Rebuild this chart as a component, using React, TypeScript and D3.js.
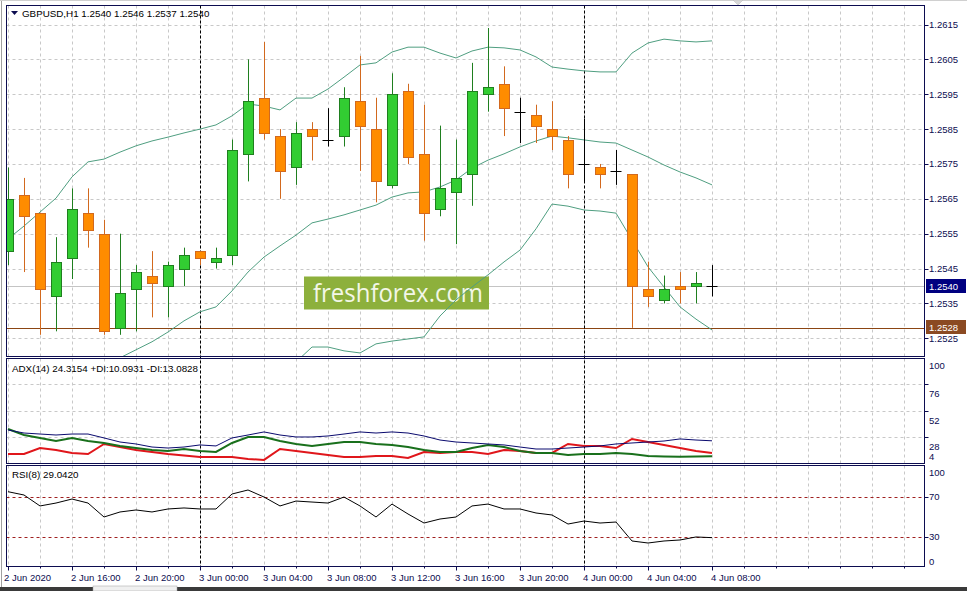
import React from 'react';
import * as d3 from 'd3';

const W = 967;
const H = 591;

// ---------- data ----------
const timeLabels = ['2 Jun 2020', '2 Jun 16:00', '2 Jun 20:00', '3 Jun 00:00', '3 Jun 04:00', '3 Jun 08:00', '3 Jun 12:00', '3 Jun 16:00', '3 Jun 20:00', '4 Jun 00:00', '4 Jun 04:00', '4 Jun 08:00'];
const labelBars = [0, 4, 8, 12, 16, 20, 24, 28, 32, 36, 40, 44];
const daySeparatorBars = [12, 36];

const priceTicks = [1.2525, 1.2535, 1.2545, 1.2555, 1.2565, 1.2575, 1.2585, 1.2595, 1.2605, 1.2615];
const adxTicks = [100, 76, 52, 28, 4];
const rsiTicks = [100, 70, 30, 0];
const rsiLevels = [70, 30];

const open = [1.2550, 1.2566, 1.2561, 1.2537, 1.2548, 1.2561, 1.2555, 1.2528, 1.2539, 1.2543, 1.2540, 1.2545, 1.2550, 1.2547, 1.2549, 1.2578, 1.2594, 1.2583, 1.2574, 1.2585, 1.2582, 1.2583, 1.2593, 1.2585, 1.2569, 1.2596, 1.2578, 1.2562, 1.2567, 1.2572, 1.2595, 1.2598, 1.2590, 1.2589, 1.2585, 1.2582, 1.2575, 1.2574, 1.2573, 1.2572, 1.2539, 1.2536, 1.2540, 1.2540, 1.2540];
const high = [1.2574, 1.2571, 1.2561, 1.2554, 1.2568, 1.2568, 1.2559, 1.2555, 1.2546, 1.2550, 1.2547, 1.2551, 1.2550, 1.2551, 1.2582, 1.2605, 1.2610, 1.2585, 1.2587, 1.2587, 1.2591, 1.2597, 1.2606, 1.2594, 1.2601, 1.2598, 1.2592, 1.2586, 1.2582, 1.2604, 1.2614, 1.2603, 1.2594, 1.2592, 1.2593, 1.2583, 1.2588, 1.2575, 1.2579, 1.2572, 1.2547, 1.2543, 1.2544, 1.2544, 1.2546];
const low = [1.2546, 1.2544, 1.2526, 1.2527, 1.2542, 1.2551, 1.2526, 1.2526, 1.2527, 1.2531, 1.2531, 1.2540, 1.2546, 1.2545, 1.2546, 1.2570, 1.2582, 1.2565, 1.2569, 1.2576, 1.2580, 1.2580, 1.2573, 1.2564, 1.2568, 1.2575, 1.2553, 1.2560, 1.2552, 1.2563, 1.2590, 1.2583, 1.2581, 1.2581, 1.2579, 1.2568, 1.2570, 1.2568, 1.2569, 1.2528, 1.2534, 1.2535, 1.2535, 1.2535, 1.2537];
const close = [1.2565, 1.2560, 1.2539, 1.2547, 1.2562, 1.2556, 1.2527, 1.2538, 1.2544, 1.2541, 1.2546, 1.2549, 1.2548, 1.2548, 1.2579, 1.2593, 1.2584, 1.2573, 1.2584, 1.2583, 1.2582, 1.2594, 1.2586, 1.2570, 1.2595, 1.2577, 1.2561, 1.2568, 1.2571, 1.2596, 1.2597, 1.2591, 1.2590, 1.2586, 1.2583, 1.2572, 1.2575, 1.2572, 1.2573, 1.2540, 1.2537, 1.2539, 1.2539, 1.2541, 1.2540];

const bbUpper = [1.25535, 1.25572, 1.25612, 1.25652, 1.25713, 1.25756, 1.25764, 1.25784, 1.25802, 1.25816, 1.25827, 1.25839, 1.25850, 1.25862, 1.25888, 1.25922, 1.25916, 1.25905, 1.25939, 1.25939, 1.25965, 1.25999, 1.26034, 1.26040, 1.26071, 1.26085, 1.26085, 1.26068, 1.26054, 1.26074, 1.26085, 1.26083, 1.26077, 1.26057, 1.26028, 1.26022, 1.26017, 1.26014, 1.26014, 1.26068, 1.26097, 1.26108, 1.26103, 1.26100, 1.26103];
const bbMiddle = [null, null, null, null, null, null, 1.25168, 1.25194, 1.25217, 1.25240, 1.25268, 1.25300, 1.25326, 1.25340, 1.25386, 1.25440, 1.25483, 1.25515, 1.25546, 1.25581, 1.25592, 1.25604, 1.25618, 1.25632, 1.25655, 1.25667, 1.25670, 1.25684, 1.25704, 1.25738, 1.25761, 1.25779, 1.25799, 1.25816, 1.25830, 1.25825, 1.25819, 1.25813, 1.25810, 1.25790, 1.25770, 1.25747, 1.25727, 1.25710, 1.25690];
const bbLower = [null, null, null, null, null, null, null, null, null, null, null, null, null, null, null, null, null, null, 1.25182, 1.25225, 1.25225, 1.25214, 1.25208, 1.25234, 1.25242, 1.25248, 1.25254, 1.25314, 1.25360, 1.25397, 1.25432, 1.25469, 1.25503, 1.25564, 1.25635, 1.25629, 1.25618, 1.25615, 1.25609, 1.25532, 1.25455, 1.25397, 1.25340, 1.25305, 1.25274];

const adxMain = [34.2, 31.4, 30.5, 29.6, 30.5, 30.5, 26.9, 23.2, 21.4, 18.6, 17.7, 18.6, 20.5, 19.6, 26.9, 29.6, 32.4, 29.6, 27.8, 27.8, 28.7, 30.5, 32.4, 31.4, 32.4, 31.4, 28.7, 25.0, 23.2, 22.3, 21.4, 20.5, 18.6, 16.8, 16.8, 17.7, 18.6, 19.6, 21.4, 22.3, 23.2, 24.1, 26.0, 25.0, 24.3];
const plusDI = [35.1, 29.6, 26.9, 24.1, 26.9, 24.1, 22.3, 19.6, 17.7, 15.9, 15.0, 16.8, 15.0, 14.1, 22.3, 27.8, 27.8, 24.1, 21.4, 19.6, 21.4, 23.2, 23.2, 21.4, 20.5, 18.6, 15.9, 14.1, 14.1, 17.7, 20.5, 18.6, 15.0, 13.2, 13.2, 11.3, 12.2, 12.2, 13.2, 12.2, 10.4, 10.0, 9.8, 9.9, 10.1];
const minusDI = [12.2, 12.2, 17.7, 15.9, 13.2, 12.2, 21.4, 18.6, 15.9, 14.1, 12.2, 10.9, 9.5, 9.5, 9.5, 7.7, 6.8, 16.8, 15.0, 13.2, 11.3, 9.5, 9.5, 10.4, 10.4, 8.6, 14.1, 13.2, 14.1, 14.1, 12.2, 15.9, 15.0, 13.2, 13.2, 21.4, 19.6, 19.6, 17.7, 26.0, 23.2, 20.5, 17.7, 15.0, 13.1];
const rsi = [74.8, 71.5, 60.6, 63.5, 67.5, 63.5, 49.6, 54.6, 56.6, 54.6, 57.6, 58.6, 57.6, 57.6, 72.5, 76.5, 69.5, 60.6, 65.5, 64.5, 63.5, 69.5, 60.6, 49.6, 62.5, 52.6, 43.6, 47.6, 49.6, 60.6, 62.5, 57.6, 57.6, 53.6, 51.6, 42.6, 45.6, 43.6, 44.6, 25.7, 23.7, 25.7, 26.7, 29.7, 29.04];

const headerText = 'GBPUSD,H1  1.2540 1.2546 1.2537 1.2540';
const adxText = 'ADX(14) 24.3154 +DI:10.0931 -DI:13.0828';
const rsiText = 'RSI(8) 29.0420';
const bidPrice = 1.2540;
const linePrice = 1.2528;
const watermark = 'freshforex.com';

// ---------- layout ----------
const L = 6.5, R = 924.5;
const mainTop = 5.5, mainBot = 356.5;
const adxTop = 358.5, adxBot = 463.5;
const rsiTop = 465.5, rsiBot = 566.5;
const FONT = '"Liberation Sans", Arial, sans-serif';
const FRAME = '#0c0c50';
const GRID = '#c8c8c8';

export default function App() {
  const n = open.length;
  const x = d3.scaleLinear().domain([0, 44]).range([8, 712]);
  const y = d3.scaleLinear().domain([1.2525, 1.2615]).range([338.3, 24.5]);
  const yAdx = d3.scaleLinear().domain([4, 100]).range([463, 358]);
  const yRsi = d3.scaleLinear().domain([0, 100]).range([566.8, 466.4]);

  const gridBars = d3.range(0, 57, 2);
  const idx = d3.range(n);

  const bandLine = (arr: (number | null)[]) =>
    d3.line<number>()
      .defined((i) => arr[i] != null)
      .x((i) => x(i))
      .y((i) => y(arr[i] as number))(idx) || '';
  const indLine = (arr: number[], sc: d3.ScaleLinear<number, number>) =>
    d3.line<number>().x((i) => x(i)).y((i) => sc(arr[i]))(idx) || '';

  const bullFill = '#32CD32', bullStroke = '#1f7f1f';
  const bearFill = '#FF8C00', bearStroke = '#D2691E';
  const bodyW = 9;

  return (
    <div style={{ position: 'absolute', left: 0, top: 0 }}>
      <svg width={W} height={H} style={{ display: 'block', background: '#fff' }} fontFamily={FONT}>
        <defs>
          <clipPath id="clipMain"><rect x={L} y={mainTop} width={R - L} height={mainBot - mainTop} /></clipPath>
          <clipPath id="clipAdx"><rect x={L} y={adxTop} width={R - L} height={adxBot - adxTop} /></clipPath>
          <clipPath id="clipRsi"><rect x={L} y={rsiTop} width={R - L} height={rsiBot - rsiTop} /></clipPath>
        </defs>

        {/* window edges */}
        <line x1={1.5} x2={1.5} y1={0} y2={H} stroke="#a0a0a0" />
        <line x1={0} x2={W} y1={0.5} y2={0.5} stroke="#d0d0d0" />
        <path d="M733,0 L743,0 L738,5 Z" fill="#d8d8d8" stroke="#b8b8b8" strokeWidth={0.5} />

        {/* grids */}
        <g stroke={GRID} strokeDasharray="3,3" strokeWidth={1}>
          {gridBars.map((b) => (
            <g key={'vg' + b}>
              <line x1={Math.round(x(b)) + 0.5} x2={Math.round(x(b)) + 0.5} y1={mainTop} y2={mainBot} />
              <line x1={Math.round(x(b)) + 0.5} x2={Math.round(x(b)) + 0.5} y1={adxTop} y2={adxBot} />
              <line x1={Math.round(x(b)) + 0.5} x2={Math.round(x(b)) + 0.5} y1={rsiTop} y2={rsiBot} />
            </g>
          ))}
          {priceTicks.map((p) => (
            <line key={'hg' + p} x1={L} x2={R} y1={Math.round(y(p)) + 0.5} y2={Math.round(y(p)) + 0.5} />
          ))}
          {[76, 52, 28].map((v) => (
            <line key={'ag' + v} x1={L} x2={R} y1={Math.round(yAdx(v)) + 0.5} y2={Math.round(yAdx(v)) + 0.5} />
          ))}
        </g>

        {/* bid line and horizontal price line */}
        <line x1={L} x2={R} y1={Math.round(y(bidPrice)) + 0.5} y2={Math.round(y(bidPrice)) + 0.5} stroke="#c4c4c4" />
        <line x1={L} x2={R} y1={Math.round(y(linePrice)) + 0.5} y2={Math.round(y(linePrice)) + 0.5} stroke="#8B4513" />

        {/* day separators */}
        {daySeparatorBars.map((b) => (
          <line key={'ds' + b} x1={Math.round(x(b)) + 0.5} x2={Math.round(x(b)) + 0.5} y1={mainTop} y2={rsiBot} stroke="#000" strokeDasharray="3,2" />
        ))}

        {/* watermark */}
        <rect x={304} y={276.5} width={185} height={33} fill="#8DB03C" />
        <text x={313} y={302} fontFamily='"Open Sans", "Noto Sans", sans-serif' fontSize={25} fill="#f3f7e8" textLength={170} lengthAdjust="spacingAndGlyphs">{watermark}</text>

        {/* bollinger bands */}
        <g clipPath="url(#clipMain)" fill="none" stroke="#4f9e80" strokeWidth={1}>
          <path d={bandLine(bbUpper)} />
          <path d={bandLine(bbMiddle)} />
          <path d={bandLine(bbLower)} />
        </g>

        {/* candles */}
        <g clipPath="url(#clipMain)">
          {idx.map((i) => {
            const cx = Math.round(x(i)) + 0.5;
            const o = open[i], c = close[i];
            const yh = y(high[i]), yl = y(low[i]);
            if (o === c) {
              const yc = Math.round(y(o)) + 0.5;
              return (
                <g key={'c' + i} stroke="#000">
                  <line x1={cx} x2={cx} y1={yh} y2={yl} />
                  <line x1={cx - 6} x2={cx + 5} y1={yc} y2={yc} />
                </g>
              );
            }
            const bull = c > o;
            const top = y(Math.max(o, c)), bot = y(Math.min(o, c));
            return (
              <g key={'c' + i}>
                <line x1={cx} x2={cx} y1={yh} y2={yl} stroke={bull ? bullStroke : bearStroke} />
                <rect x={cx - bodyW / 2 - 0.5} y={Math.round(top) + 0.5} width={bodyW + 1} height={Math.max(1, Math.round(bot) - Math.round(top))}
                  fill={bull ? bullFill : bearFill} stroke={bull ? bullStroke : bearStroke} />
              </g>
            );
          })}
        </g>

        {/* ADX lines */}
        <g clipPath="url(#clipAdx)" fill="none">
          <path d={indLine(minusDI, yAdx)} stroke="#e0161b" strokeWidth={2} />
          <path d={indLine(plusDI, yAdx)} stroke="#19701c" strokeWidth={2} />
          <path d={indLine(adxMain, yAdx)} stroke="#0a0a6e" strokeWidth={1} />
        </g>

        {/* RSI */}
        <g clipPath="url(#clipRsi)" fill="none">
          {rsiLevels.map((v) => (
            <line key={'rl' + v} x1={L} x2={R} y1={Math.round(yRsi(v)) + 0.5} y2={Math.round(yRsi(v)) + 0.5} stroke="#a02020" strokeDasharray="3,3" />
          ))}
          <path d={indLine(rsi, yRsi)} stroke="#000" strokeWidth={1} />
        </g>

        {/* frames */}
        <g fill="none" stroke={FRAME} strokeWidth={1}>
          <rect x={L} y={mainTop} width={R - L} height={mainBot - mainTop} />
          <rect x={L} y={adxTop} width={R - L} height={adxBot - adxTop} />
          <rect x={L} y={rsiTop} width={R - L} height={rsiBot - rsiTop} />
        </g>

        {/* header texts */}
        <path d="M11,11 L18,11 L14.5,15 Z" fill={FRAME} />
        <text x={22} y={17} fontSize={9.8} fill="#000">{headerText}</text>
        <text x={12} y={372} fontSize={9.8} fill="#000">{adxText}</text>
        <text x={12} y={478} fontSize={9.8} fill="#000">{rsiText}</text>

        {/* price axis */}
        <g fontSize={9.5} fill={FRAME}>
          {priceTicks.map((p) => (
            <g key={'pt' + p}>
              <line x1={R} x2={R + 4} y1={Math.round(y(p)) + 0.5} y2={Math.round(y(p)) + 0.5} stroke={FRAME} />
              <text x={929} y={y(p) + 3.5}>{p.toFixed(4)}</text>
            </g>
          ))}
        </g>
        <rect x={926} y={279} width={40} height={14} fill="#000080" />
        <text x={929} y={289.5} fontSize={9.5} fill="#fff">{bidPrice.toFixed(4)}</text>
        <rect x={926} y={320} width={40} height={14} fill="#8B4A22" />
        <text x={929} y={330.5} fontSize={9.5} fill="#fff">{linePrice.toFixed(4)}</text>

        {/* ADX axis */}
        <g fontSize={9.5} fill={FRAME}>
          {adxTicks.map((v, k) => (
            <g key={'at' + v}>
              {v !== 100 && v !== 4 && (
                <line x1={R} x2={R + 4} y1={Math.round(yAdx(v)) + 0.5} y2={Math.round(yAdx(v)) + 0.5} stroke={FRAME} />
              )}
              <text x={929} y={v === 4 ? 460 : yAdx(v) + (k === 0 ? 10.5 : 13)}>{v}</text>
            </g>
          ))}
        </g>

        {/* RSI axis */}
        <g fontSize={9.5} fill={FRAME}>
          {rsiTicks.map((v) => (
            <g key={'rt' + v}>
              {(v === 70 || v === 30) && (
                <line x1={R} x2={R + 4} y1={Math.round(yRsi(v)) + 0.5} y2={Math.round(yRsi(v)) + 0.5} stroke={FRAME} />
              )}
              <text x={929} y={v === 100 ? 475.5 : v === 0 ? 564.5 : yRsi(v) + 3.5}>{v}</text>
            </g>
          ))}
        </g>

        {/* time axis */}
        <g fontSize={9.5} fill={FRAME}>
          {gridBars.map((b) => (
            <line key={'tt' + b} x1={Math.round(x(b)) + 0.5} x2={Math.round(x(b)) + 0.5} y1={rsiBot} y2={rsiBot + (labelBars.includes(b) ? 4 : 2)} stroke={FRAME} />
          ))}
          {labelBars.map((b, k) => (
            <text key={'tl' + b} x={k === 0 ? 4 : x(b) - 1} y={581}>{timeLabels[k]}</text>
          ))}
        </g>

        {/* bottom tab bar */}
        <rect x={0} y={587} width={W} height={4} fill="#3a3a3a" />
        <rect x={93} y={586} width={84} height={5} fill="#f0f0f0" stroke="#a0a0a0" strokeWidth={0.5} />
      </svg>
    </div>
  );
}
